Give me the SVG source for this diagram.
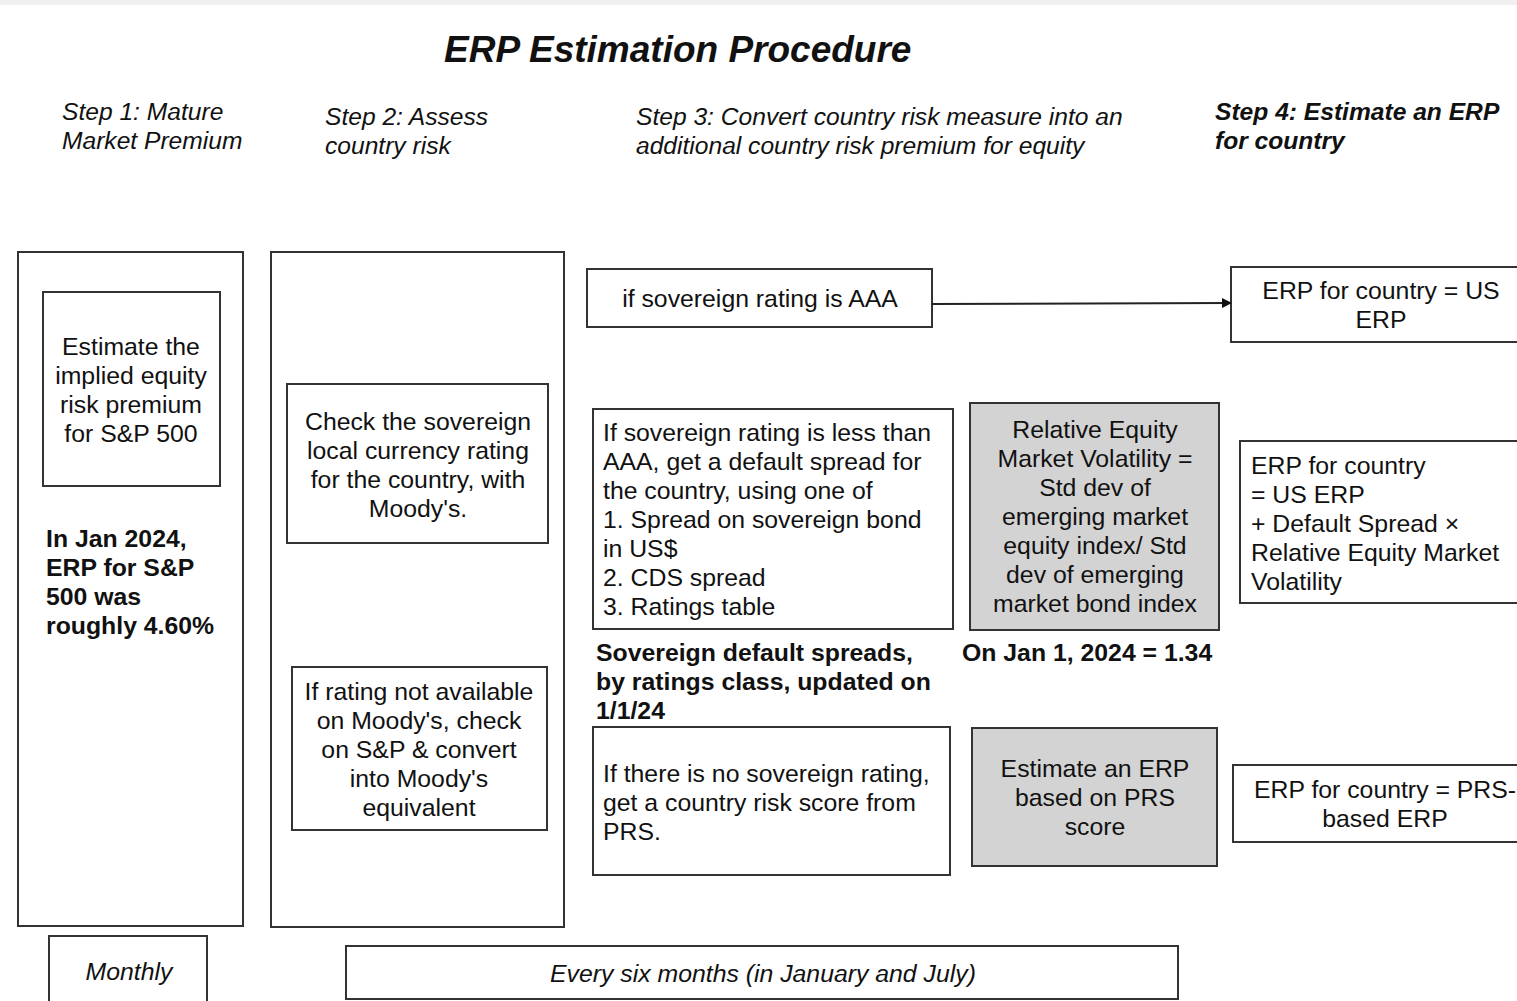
<svg xmlns="http://www.w3.org/2000/svg" width="1517" height="1001" viewBox="0 0 1517 1001">
<defs>
<style>
.box{fill:#fff;stroke:#333;stroke-width:2}
.gray{fill:#d3d3d3;stroke:#333;stroke-width:2}
text{font-family:"Liberation Sans",Arial,sans-serif;font-size:24.8px;fill:#111}
.c{text-anchor:middle}
.b{font-weight:bold}
.i{font-style:italic}
.h{font-size:24.6px}
.title{font-size:37px;font-weight:bold;font-style:italic}
.conn{stroke:#222;stroke-width:2;fill:none}
</style>
<marker id="arr" markerWidth="10" markerHeight="10" refX="9" refY="5" orient="auto" markerUnits="userSpaceOnUse">
<path d="M0,0 L10,5 L0,10 z" fill="#111"/>
</marker>
</defs>
<rect x="0" y="0" width="1517" height="1001" fill="#fff"/>
<rect x="0" y="0" width="1517" height="5" fill="#f0f0f0"/>
<text class="title" x="444" y="62">ERP Estimation Procedure</text>
<g id="headers">
<text class="i h" x="62" y="120">Step 1: Mature</text>
<text class="i h" x="62" y="149">Market Premium</text>
<text class="i h" x="325" y="125">Step 2: Assess</text>
<text class="i h" x="325" y="154">country risk</text>
<text class="i h" x="636" y="125">Step 3: Convert country risk measure into an</text>
<text class="i h" x="636" y="154">additional country risk premium for equity</text>
<text class="i b h" x="1215" y="120">Step 4: Estimate an ERP</text>
<text class="i b h" x="1215" y="149">for country</text>
</g>
<g id="step1-col"><rect class="box" x="18" y="252" width="225" height="674"/></g>
<g id="step2-col"><rect class="box" x="271" y="252" width="293" height="675"/></g>
<g id="implied">
<rect class="box" x="43" y="292" width="177" height="194"/>
<text class="c" x="131" y="355">Estimate the</text>
<text class="c" x="131" y="384">implied equity</text>
<text class="c" x="131" y="413">risk premium</text>
<text class="c" x="131" y="442">for S&amp;P 500</text>
</g>
<g id="jan2024">
<text class="b" x="46" y="547">In Jan 2024,</text>
<text class="b" x="46" y="576">ERP for S&amp;P</text>
<text class="b" x="46" y="605">500 was</text>
<text class="b" x="46" y="634">roughly 4.60%</text>
</g>
<g id="check">
<rect class="box" x="287" y="384" width="261" height="159"/>
<text class="c" x="418" y="430">Check the sovereign</text>
<text class="c" x="418" y="459">local currency rating</text>
<text class="c" x="418" y="488">for the country, with</text>
<text class="c" x="418" y="517">Moody's.</text>
</g>
<g id="notavail">
<rect class="box" x="292" y="667" width="255" height="163"/>
<text class="c" x="419" y="700">If rating not available</text>
<text class="c" x="419" y="729">on Moody's, check</text>
<text class="c" x="419" y="758">on S&amp;P &amp; convert</text>
<text class="c" x="419" y="787">into Moody's</text>
<text class="c" x="419" y="816">equivalent</text>
</g>
<g id="aaa">
<rect class="box" x="587" y="269" width="345" height="58"/>
<text class="c" x="760" y="307">if sovereign rating is AAA</text>
</g>
<g id="erp-us">
<rect class="box" x="1231" y="267" width="300" height="75"/>
<text class="c" x="1381" y="299">ERP for country = US</text>
<text class="c" x="1381" y="328">ERP</text>
</g>
<g id="lessaaa">
<rect class="box" x="593" y="409" width="360" height="220"/>
<text x="603" y="441">If sovereign rating is less than</text>
<text x="603" y="470">AAA, get a default spread for</text>
<text x="603" y="499">the country, using one of</text>
<text x="603" y="528">1. Spread on sovereign bond</text>
<text x="603" y="557">in US$</text>
<text x="603" y="586">2. CDS spread</text>
<text x="603" y="615">3. Ratings table</text>
</g>
<g id="relvol">
<rect class="gray" x="970" y="403" width="249" height="227"/>
<text class="c" x="1095" y="438">Relative Equity</text>
<text class="c" x="1095" y="467">Market Volatility =</text>
<text class="c" x="1095" y="496">Std dev of</text>
<text class="c" x="1095" y="525">emerging market</text>
<text class="c" x="1095" y="554">equity index/ Std</text>
<text class="c" x="1095" y="583">dev of emerging</text>
<text class="c" x="1095" y="612">market bond index</text>
</g>
<g id="erp-formula">
<rect class="box" x="1240" y="441" width="290" height="162"/>
<text x="1251" y="474">ERP for country</text>
<text x="1251" y="503">= US ERP</text>
<text x="1251" y="532">+ Default Spread × </text>
<text x="1251" y="561">Relative Equity Market</text>
<text x="1251" y="590">Volatility</text>
</g>
<g id="spreads-note">
<text class="b" x="596" y="661">Sovereign default spreads,</text>
<text class="b" x="596" y="690">by ratings class, updated on</text>
<text class="b" x="596" y="719">1/1/24</text>
</g>
<g id="vol-note"><text class="b" x="962" y="661">On Jan 1, 2024 = 1.34</text></g>
<g id="norating">
<rect class="box" x="593" y="727" width="357" height="148"/>
<text x="603" y="782">If there is no sovereign rating,</text>
<text x="603" y="811">get a country risk score from</text>
<text x="603" y="840">PRS.</text>
</g>
<g id="prs">
<rect class="gray" x="972" y="728" width="245" height="138"/>
<text class="c" x="1095" y="777">Estimate an ERP</text>
<text class="c" x="1095" y="806">based on PRS</text>
<text class="c" x="1095" y="835">score</text>
</g>
<g id="erp-prs">
<rect class="box" x="1233" y="765" width="300" height="77"/>
<text class="c" x="1385" y="798">ERP for country = PRS-</text>
<text class="c" x="1385" y="827">based ERP</text>
</g>
<g id="monthly">
<rect class="box" x="49" y="936" width="158" height="70"/>
<text class="c i" x="129" y="980">Monthly</text>
</g>
<g id="sixmonths">
<rect class="box" x="346" y="946" width="832" height="53"/>
<text class="c i" x="763" y="982">Every six months (in January and July)</text>
</g>
<g id="connectors">
<line class="conn" x1="932" y1="304" x2="1231" y2="303" marker-end="url(#arr)"/>
</g>
</svg>
